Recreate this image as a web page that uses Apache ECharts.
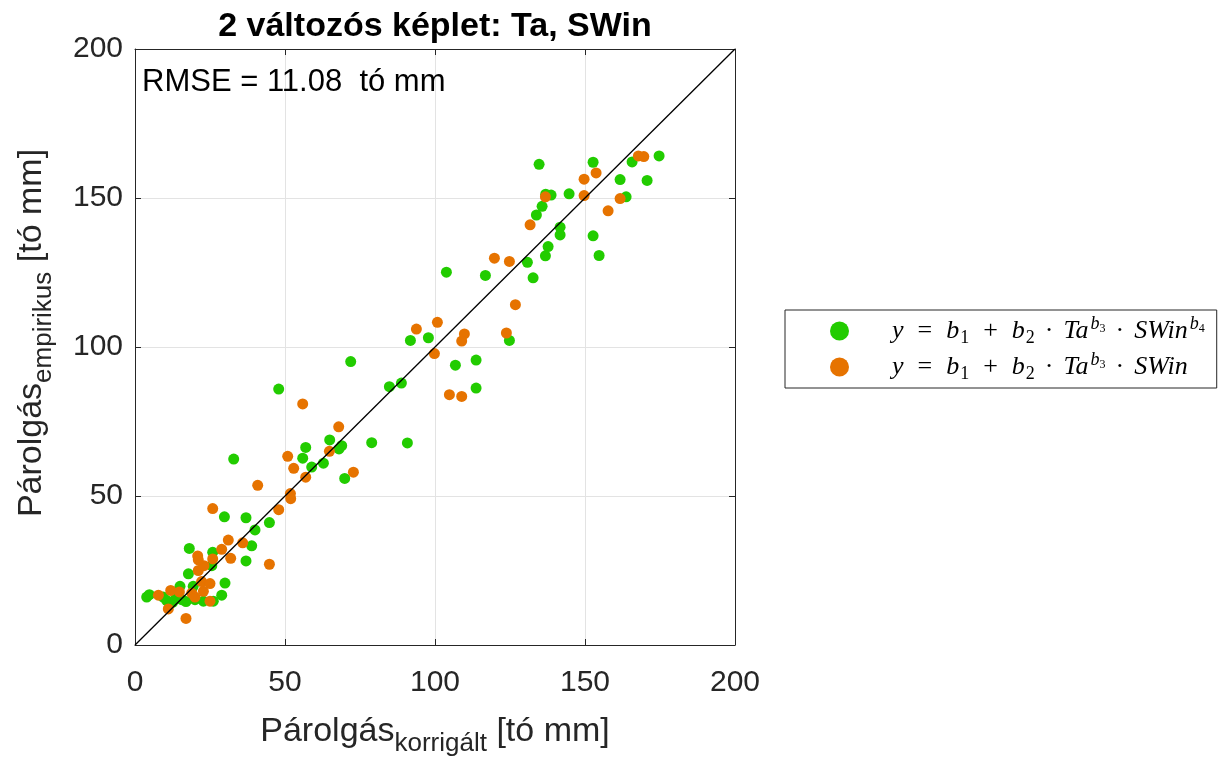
<!DOCTYPE html>
<html>
<head>
<meta charset="utf-8">
<script src="https://cdn.jsdelivr.net/npm/echarts@6/dist/echarts.min.js"></script>
<style>html,body{margin:0;padding:0;background:#fff;width:1218px;height:762px;overflow:hidden;}#c{width:1218px;height:762px;position:absolute;left:0;top:0;}</style>
</head>
<body>
<div id="c"></div>
<script>
// ---- data ----
const titleText = '2 változós képlet: Ta, SWin';
const rmseText = 'RMSE = 11.08  tó mm';
const axisTicks = [0, 50, 100, 150, 200];
const greenPoints = [
  [3.9,16.1],[4.8,16.9],[9.4,16.1],[10.6,14.9],[12.5,14.3],[13.5,15.5],[15.6,15.2],[17,14.6],
  [15,19.7],[19.4,19.7],[20,15.2],[22.8,14.7],[26.1,14.7],[28.9,16.7],[30,20.8],[17.8,23.9],
  [25.6,26.6],[18.1,32.4],[25.9,31.1],[29.8,43],[37,42.7],[44.8,41.1],[40,38.6],[38.9,33.3],
  [37,28.2],[32.9,62.4],[47.9,85.9],[56.9,66.3],[55.9,62.7],[64.9,68.8],[68.9,66.9],[68,65.8],
  [78.9,67.9],[90.8,67.8],[58.9,59.7],[62.8,61],[69.9,55.9],[71.9,95.1],[84.8,86.7],[88.8,87.9],
  [91.8,102.2],[97.8,103.1],[106.8,93.9],[113.7,95.6],[113.7,86.2],[103.8,125.1],[116.8,124],
  [124.8,102.2],[130.8,128.4],[132.7,123.2],[134.7,161.3],[152.7,162],[165.7,162.1],[174.7,164.1],
  [161.7,156.2],[170.7,155.9],[136.9,151.3],[138.7,151],[144.7,151.4],[163.7,150.4],[135.7,147.2],
  [133.8,144.3],[141.7,140.2],[141.7,137.6],[152.7,137.3],[137.7,133.7],[136.8,130.6],[154.7,130.7]
];
const orangePoints = [
  [7.8,16.7],[11.9,18.3],[14.8,17.8],[18.9,17.4],[20,16.1],[22.8,18],[25,14.7],[11.1,12.1],
  [17,8.9],[21.1,25],[23,26.6],[22.2,21.3],[25,20.6],[20.9,29.9],[21.1,28.6],[25.9,28.9],
  [31.9,29.1],[28.9,32.1],[31.1,35.2],[35.9,34.3],[44.8,27.1],[25.9,45.8],[47.9,45.4],[51.9,49.1],
  [51.8,50.8],[40.9,53.6],[56.9,56.3],[52.9,59.3],[50.9,63.3],[55.9,80.9],[64.8,65],[67.9,73.2],
  [72.8,58],[93.8,106],[100.8,108.3],[109.8,104.4],[108.9,102],[123.8,104.7],[99.8,97.8],[104.8,84],
  [108.9,83.4],[119.8,129.8],[124.8,128.7],[126.8,114.2],[131.7,141],[136.8,150.4],[149.7,150.8],
  [149.7,156.3],[153.7,158.4],[161.7,149.8],[157.7,145.7],[167.8,164.1],[169.6,163.9]
];
const identityLine = [[0,0],[200,200]];
const seriesNames = ['model4', 'model3'];

// ---- chart ----
const chart = echarts.init(document.getElementById('c'), null, {renderer: 'canvas', width: 1218, height: 762});
const sans = 'Liberation Sans, Arial, Helvetica, sans-serif';
const serif = 'Liberation Serif, DejaVu Serif, serif';
const axColor = '#262626';
const mathRich = {
  sp: {width: 38, lineHeight: 32},
  it: {fontFamily: serif, fontStyle: 'italic', fontSize: 26, color: '#000', lineHeight: 32},
  op: {fontFamily: serif, fontSize: 26, color: '#000', lineHeight: 32, padding: [0, 14, 0, 14]},
  dot: {fontFamily: serif, fontSize: 26, color: '#000', lineHeight: 32, padding: [0, 10, 0, 10]},
  sub: {fontFamily: serif, fontSize: 18, color: '#000', lineHeight: 18, verticalAlign: 'bottom', padding: [0, 0, 0, 1]},
  sup: {fontFamily: serif, fontStyle: 'italic', fontSize: 18, color: '#000', lineHeight: 18, verticalAlign: 'top', padding: [0, 0, 0, 2]},
  supsub: {fontFamily: serif, fontSize: 12, color: '#000', lineHeight: 12, verticalAlign: 'top', padding: [8, 0, 0, 0]}
};
const legendLabels = {
  model4: '{sp|}{it|y}{op|=}{it|b}{sub|1}{op|+}{it|b}{sub|2}{dot|·}{it|Ta}{sup|b}{supsub|3}{dot|·}{it|SWin}{sup|b}{supsub|4}',
  model3: '{sp|}{it|y}{op|=}{it|b}{sub|1}{op|+}{it|b}{sub|2}{dot|·}{it|Ta}{sup|b}{supsub|3}{dot|·}{it|SWin}'
};

const commonAxis = {
  min: 0, max: 200, interval: 50,
  axisLine: {show: true, onZero: false, lineStyle: {color: axColor, width: 1}},
  axisTick: {show: true, inside: true, length: 6, lineStyle: {color: axColor}},
};

chart.setOption({
  animation: false,
  backgroundColor: '#fff',
  title: {
    text: titleText, left: 430, top: 5, textAlign: 'center',
    textStyle: {fontFamily: sans, fontSize: 34, fontWeight: 'bold', color: '#000'}
  },
  grid: {left: 135, top: 49, width: 600, height: 600, containLabel: false},
  legend: {
    data: seriesNames,
    orient: 'vertical',
    left: 785, top: 310,
    padding: [5, 12, 5, 45],
    itemGap: 4,
    itemWidth: 19, itemHeight: 19,
    icon: 'circle',
    borderColor: axColor, borderWidth: 1,
    formatter: n => legendLabels[n],
    textStyle: {rich: mathRich, fontFamily: serif, fontSize: 26, color: '#000', lineHeight: 32}
  },
  xAxis: [
    Object.assign({}, commonAxis, {
      type: 'value', position: 'bottom',
      axisLabel: {fontFamily: sans, fontSize: 30, color: axColor, margin: 23},
      splitLine: {show: true, lineStyle: {color: '#e3e3e3'}},
      name: 'Párolgás{sub|korrigált} [tó mm]',
      nameLocation: 'middle', nameGap: 62,
      nameTextStyle: {fontFamily: sans, fontSize: 34, color: axColor,
        rich: {sub: {fontFamily: sans, fontSize: 26, color: axColor, padding: [24, 0, 0, 0]}}}
    }),
    Object.assign({}, commonAxis, {
      type: 'value', position: 'top',
      axisLabel: {show: false}, splitLine: {show: false}
    })
  ],
  yAxis: [
    Object.assign({}, commonAxis, {
      type: 'value', position: 'left',
      axisLabel: {fontFamily: sans, fontSize: 30, color: axColor, margin: 12},
      splitLine: {show: true, lineStyle: {color: '#e3e3e3'}},
      name: 'Párolgás{sub|empirikus} [tó mm]',
      nameLocation: 'middle', nameGap: 78, nameRotate: 90,
      nameTextStyle: {fontFamily: sans, fontSize: 34, color: axColor, padding: [0, 0, 0, 28],
        rich: {sub: {fontFamily: sans, fontSize: 26, color: axColor, padding: [24, 0, 0, 0]}}}
    }),
    Object.assign({}, commonAxis, {
      type: 'value', position: 'right',
      axisLabel: {show: false}, splitLine: {show: false}
    })
  ],
  graphic: [{
    type: 'text', left: 142, top: 67, z: 10,
    style: {text: rmseText, fontFamily: sans, fontSize: 31, fill: '#000'}
  }],
  series: [
    {
      name: 'model4', type: 'scatter', data: greenPoints,
      symbol: 'circle', symbolSize: 11,
      itemStyle: {color: '#22cc00', opacity: 1}, z: 3
    },
    {
      name: 'model3', type: 'scatter', data: orangePoints,
      symbol: 'circle', symbolSize: 11,
      itemStyle: {color: '#e67300', opacity: 1}, z: 4
    },
    {
      name: 'identity', type: 'line', data: identityLine,
      symbol: 'none', lineStyle: {color: '#000', width: 1.3}, z: 6, silent: true
    }
  ]
});
</script>
</body>
</html>
